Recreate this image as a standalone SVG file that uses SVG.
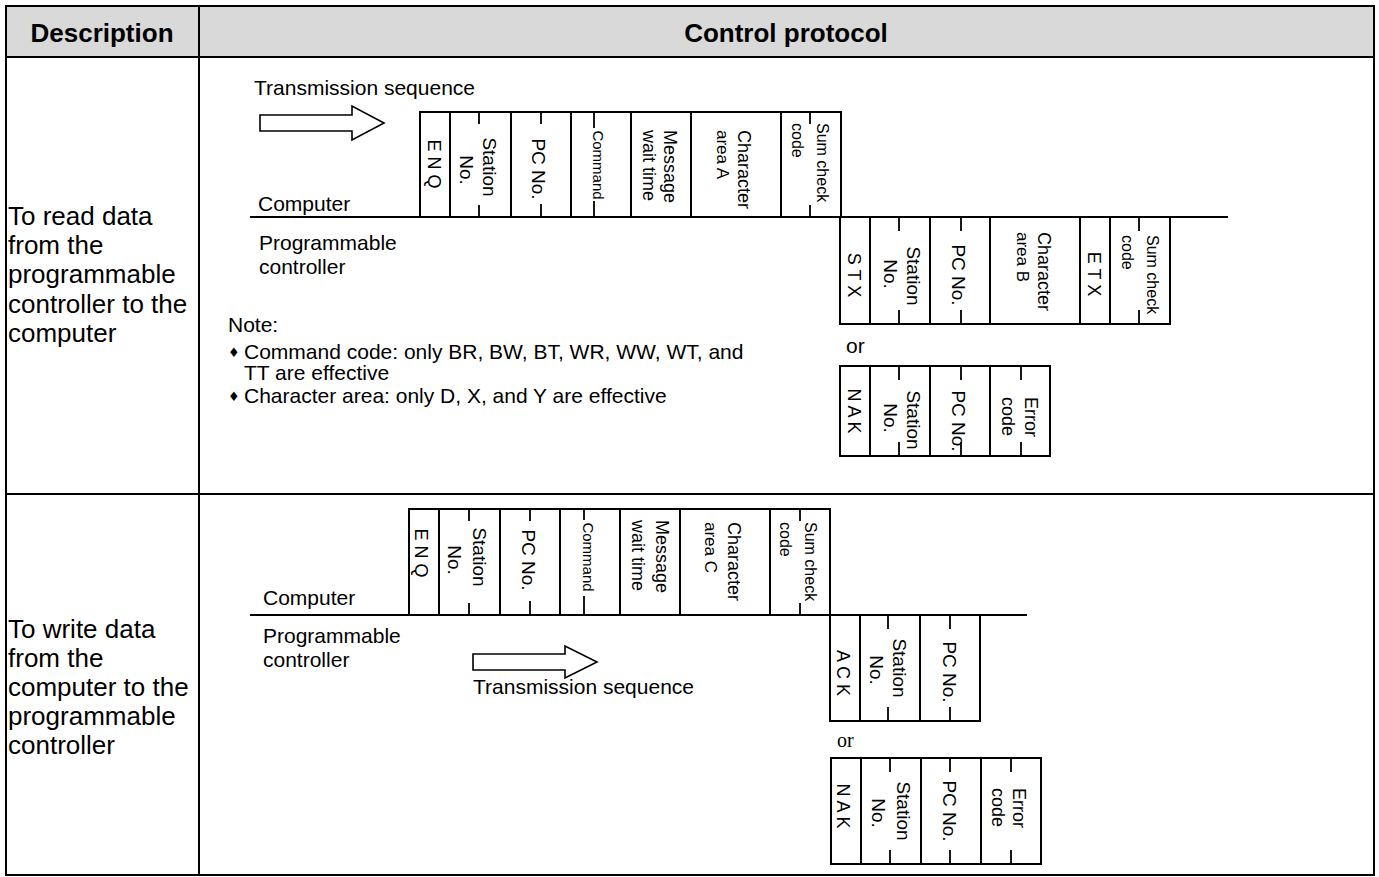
<svg xmlns="http://www.w3.org/2000/svg" width="1379" height="877" viewBox="0 0 1379 877">
<style>
text{font-family:"Liberation Sans",Arial,"DejaVu Sans",sans-serif;fill:#000}
.hd{font-size:26px;font-weight:bold;text-anchor:middle}
.lc{font-size:26px}
.lb{font-size:21px}
.nt{font-size:21px}
.bl{font-size:13px;font-family:"DejaVu Sans",sans-serif}
.box{fill:#fff;stroke:#000;stroke-width:2}
.ln{stroke:#000;stroke-width:2;fill:none}
.tk{stroke:#000;stroke-width:1.8}
.arr{fill:#fff;stroke:#000;stroke-width:1.6}
.m{text-anchor:middle}
.f19{font-size:19px}.f18{font-size:18px}.f17{font-size:17px}.f16{font-size:16px}.f15{font-size:15px}
.ser{font-family:"Liberation Serif","Times New Roman",serif;font-size:20px}
</style>
<rect width="1379" height="877" fill="#fff"/>
<g id="table">
<rect x="6" y="6" width="1368" height="51" fill="#d9d9d9"/>
<rect x="6" y="6" width="1368" height="869" class="ln"/>
<line x1="199" y1="6" x2="199" y2="875" class="ln"/>
<line x1="6" y1="57" x2="1374" y2="57" class="ln"/>
<line x1="6" y1="494" x2="1374" y2="494" class="ln"/>
<text class="hd" x="102" y="42">Description</text>
<text class="hd" x="786" y="42">Control protocol</text>
</g>
<g id="desc-read">
<text class="lc" x="8" y="225">To read data</text>
<text class="lc" x="8" y="254">from the</text>
<text class="lc" x="8" y="283">programmable</text>
<text class="lc" x="8" y="313">controller to the</text>
<text class="lc" x="8" y="342">computer</text>
</g>
<g id="desc-write">
<text class="lc" x="8" y="638">To write data</text>
<text class="lc" x="8" y="667">from the</text>
<text class="lc" x="8" y="696">computer to the</text>
<text class="lc" x="8" y="725">programmable</text>
<text class="lc" x="8" y="754">controller</text>
</g>
<g id="connectors">
<line x1="250" y1="217" x2="1228" y2="217" class="ln"/>
<line x1="250" y1="615" x2="1027" y2="615" class="ln"/>
</g>
<g id="read-labels">
<text class="lb" x="254" y="95">Transmission sequence</text>
<polygon class="arr" points="260,115 352,115 352,106 384,123 352,140 352,131 260,131"/>
<text class="lb" x="258" y="211">Computer</text>
<text class="lb" x="259" y="250">Programmable</text>
<text class="lb" x="259" y="274">controller</text>
<text class="lb" x="846" y="353">or</text>
<text class="nt" x="228" y="332">Note:</text>
<text class="bl" x="228" y="357">♦</text>
<text class="nt" x="244" y="359">Command code: only BR, BW, BT, WR, WW, WT, and</text>
<text class="nt" x="244" y="380">TT are effective</text>
<text class="bl" x="228" y="401">♦</text>
<text class="nt" x="244" y="403">Character area: only D, X, and Y are effective</text>
</g>
<g id="read-request">
<rect class="box" x="420" y="112" width="421" height="105"/>
<path class="ln" d="M450 112V217M511 112V217M571 112V217M631 112V217M691 112V217M781 112V217"/>
<path class="tk" d="M479 112v12M479 205v12M541 112v12M541 204v13M594 112v16M594 201v16M810 112v12M810 205v12"/>
<text class="f18 m" transform="translate(428,164) rotate(90)">E N Q</text>
<text class="f19 m" transform="translate(483,167) rotate(90)">Station</text>
<text class="f19 m" transform="translate(460,170) rotate(90)">No.</text>
<text class="f19 m" transform="translate(532,169) rotate(90)">PC No.</text>
<text class="f15 m" transform="translate(593,165) rotate(90)">Command</text>
<text class="f18" transform="translate(664,130) rotate(90)">Message</text>
<text class="f18" transform="translate(643,130) rotate(90)">wait time</text>
<text class="f18" transform="translate(738,130) rotate(90)">Character</text>
<text class="f17" transform="translate(717,130) rotate(90)">area A</text>
<text class="f16" transform="translate(817,123) rotate(90)">Sum check</text>
<text class="f16" transform="translate(792,123) rotate(90)">code</text>
</g>
<g id="read-response">
<rect class="box" x="840" y="217" width="330" height="107"/>
<path class="ln" d="M870 217V324M930 217V324M990 217V324M1080 217V324M1110 217V324"/>
<path class="tk" d="M899 217v14M899 310v14M961 217v14M961 310v14M1139 217v14M1139 310v14"/>
<text class="f18 m" transform="translate(848,275) rotate(90)">S T X</text>
<text class="f19 m" transform="translate(907,276) rotate(90)">Station</text>
<text class="f19 m" transform="translate(884,274) rotate(90)">No.</text>
<text class="f19 m" transform="translate(952,275) rotate(90)">PC No.</text>
<text class="f18" transform="translate(1038,232) rotate(90)">Character</text>
<text class="f17" transform="translate(1017,232) rotate(90)">area B</text>
<text class="f18 m" transform="translate(1088,274) rotate(90)">E T X</text>
<text class="f16" transform="translate(1147,235) rotate(90)">Sum check</text>
<text class="f16" transform="translate(1122,235) rotate(90)">code</text>
</g>
<g id="read-nak">
<rect class="box" x="840" y="366" width="210" height="90"/>
<path class="ln" d="M870 366V456M930 366V456M990 366V456"/>
<path class="tk" d="M899 366v14M899 442v14M961 366v14M961 442v14M1021 366v14M1021 442v14"/>
<text class="f18 m" transform="translate(848,411) rotate(90)">N A K</text>
<text class="f19 m" transform="translate(907,420) rotate(90)">Station</text>
<text class="f19 m" transform="translate(884,418) rotate(90)">No.</text>
<text class="f19 m" transform="translate(952,421) rotate(90)">PC No.</text>
<text class="f18" transform="translate(1025,397) rotate(90)">Error</text>
<text class="f18" transform="translate(1002,397) rotate(90)">code</text>
</g>
<g id="write-labels">
<text class="lb" x="263" y="605">Computer</text>
<text class="lb" x="263" y="643">Programmable</text>
<text class="lb" x="263" y="667">controller</text>
<polygon class="arr" points="473,654 565,654 565,646 597,662 565,678 565,670 473,670"/>
<text class="lb" x="473" y="694">Transmission sequence</text>
<text class="ser" x="837" y="747">or</text>
</g>
<g id="write-request">
<rect class="box" x="409" y="509" width="421" height="106"/>
<path class="ln" d="M439 509V615M500 509V615M560 509V615M620 509V615M680 509V615M770 509V615"/>
<path class="tk" d="M469 509v12M469 603v12M530 509v12M530 601v14M584 509v11M584 596v19M800 509v12M800 603v12"/>
<text class="f18 m" transform="translate(415,553) rotate(90)">E N Q</text>
<text class="f19 m" transform="translate(473,557) rotate(90)">Station</text>
<text class="f19 m" transform="translate(448,560) rotate(90)">No.</text>
<text class="f19 m" transform="translate(522,560) rotate(90)">PC No.</text>
<text class="f15 m" transform="translate(583,557) rotate(90)">Command</text>
<text class="f18" transform="translate(656,520) rotate(90)">Message</text>
<text class="f18" transform="translate(632,520) rotate(90)">wait time</text>
<text class="f18" transform="translate(728,522) rotate(90)">Character</text>
<text class="f17" transform="translate(705,522) rotate(90)">area C</text>
<text class="f16" transform="translate(805,522) rotate(90)">Sum check</text>
<text class="f16" transform="translate(780,522) rotate(90)">code</text>
</g>
<g id="write-ack">
<rect class="box" x="830" y="615" width="150" height="106"/>
<path class="ln" d="M860 615V721M920 615V721"/>
<path class="tk" d="M888 615v14M888 707v14M950 615v14M950 707v14"/>
<text class="f18 m" transform="translate(837,673) rotate(90)">A C K</text>
<text class="f19 m" transform="translate(893,668) rotate(90)">Station</text>
<text class="f19 m" transform="translate(870,670) rotate(90)">No.</text>
<text class="f19 m" transform="translate(943,672) rotate(90)">PC No.</text>
</g>
<g id="write-nak">
<rect class="box" x="831" y="758" width="210" height="106"/>
<path class="ln" d="M861 758V864M921 758V864M981 758V864"/>
<path class="tk" d="M890 758v14M890 850v14M950 758v14M950 850v14M1011 758v14M1011 850v14"/>
<text class="f18 m" transform="translate(837,806) rotate(90)">N A K</text>
<text class="f19 m" transform="translate(897,811) rotate(90)">Station</text>
<text class="f19 m" transform="translate(872,813) rotate(90)">No.</text>
<text class="f19 m" transform="translate(943,811) rotate(90)">PC No.</text>
<text class="f18" transform="translate(1013,788) rotate(90)">Error</text>
<text class="f18" transform="translate(992,788) rotate(90)">code</text>
</g>
</svg>
